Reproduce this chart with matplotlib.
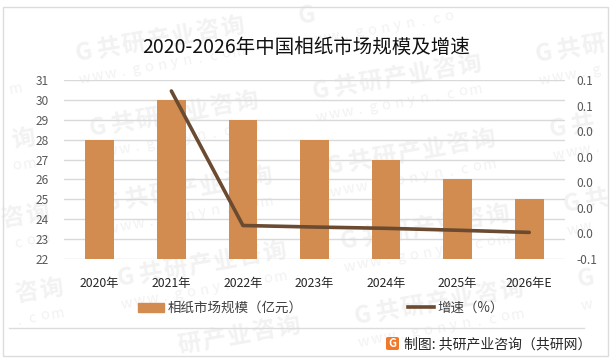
import math
import matplotlib
matplotlib.use('Agg')
from matplotlib import pyplot as plt
from matplotlib.lines import Line2D
from matplotlib.patches import FancyBboxPatch, Patch, Rectangle

plt.rcParams['font.family'] = ['Noto Sans CJK SC', 'DejaVu Sans']

years = ['2020年', '2021年', '2022年', '2023年', '2024年', '2025年', '2026年E']
market_size = [28, 30, 29, 28, 27, 26, 25]
growth_years = years[1:]
growth = [0.0714, -0.0338, -0.0350, -0.0360, -0.0375, -0.0392]
right_ticks = [-0.06, -0.04, -0.02, 0.0, 0.02, 0.04, 0.06, 0.08]
right_labels = ['-0.1', '0.0', '0.0', '0.0', '0.0', '0.0', '0.1', '0.1']

W, H = 613, 362
BAR = '#D28C4F'
LINE = '#6A4A30'
GRID = '#D9D9D9'
MARK = '#F2F2F2'
ANGLE = 10


def px(x, y):
    return x / W, 1 - y / H


def mark_row(chars, cx, cy, step, size, weight):
    # one character at a time, so the ones past the frame can be left out
    c, s = math.cos(math.radians(ANGLE)), math.sin(math.radians(ANGLE))
    n = len(chars)
    for k, ch in enumerate(chars):
        d = (k - (n - 1) / 2) * step
        x, y = cx + d * c, cy - d * s
        if ch == ' ' or x < 12 or x > 598 or y < 16 or y > 348:
            continue
        fx, fy = px(x, y)
        fig.text(fx, fy, ch, fontsize=size, fontweight=weight, color=MARK,
                 ha='center', va='center', rotation=ANGLE, zorder=-1)


fig = plt.figure(figsize=(W / 100, H / 100), dpi=100)

# outer frame and footer rule
fig.add_artist(Rectangle(px(2.5, 356), 605 / W, 349 / H, transform=fig.transFigure,
                         fill=False, ec='#DCDCDC', lw=1))
fig.add_artist(Line2D([9 / W, 584 / W], [1 - 327.5 / H] * 2, color='#DCDCDC', lw=1))

# watermark lattice
for i in range(-2, 5):
    for j in range(-3, 6):
        cx = 172 + 14 * j + 223 * i
        cy = 115 + 75 * j - 37 * i
        mark_row('G共研产业咨询', cx, cy, 25, 17, 'bold')
        mark_row('www.gonyn.com', cx + 4, cy + 25, 13, 10.5, 'normal')

left, top = px(64, 80)
right, bottom = px(565, 259)
ax1 = fig.add_axes([left, bottom, right - left, top - bottom])
ax1.patch.set_alpha(0)
ax1.bar(years, market_size, width=0.4, color=BAR, zorder=2)
ax1.set_xlim(-0.5, 6.5)
ax1.set_ylim(22, 31)
ax1.set_yticks(range(22, 32))
ax1.grid(axis='y', color=GRID, lw=1, zorder=1)
ax1.set_axisbelow(True)
ax1.tick_params(axis='x', length=0, pad=13, labelsize=8.8, labelcolor='#262626')
ax1.tick_params(axis='y', length=0, pad=11, labelsize=8.6, labelcolor='#595959')
for s in ax1.spines.values():
    s.set_visible(False)

ax2 = ax1.twinx()
ax2.plot(growth_years, growth, color=LINE, lw=2.6, solid_capstyle='round', zorder=3)
ax2.set_ylim(-0.06, 0.08)
ax2.set_yticks(right_ticks)
ax2.set_yticklabels(right_labels)
ax2.tick_params(axis='y', length=0, pad=8, labelsize=8.6, labelcolor='#595959')
for s in ax2.spines.values():
    s.set_visible(False)

x, y = px(306.5, 47)
fig.text(x, y, '2020-2026年中国相纸市场规模及增速', fontsize=14, color='#111111',
         ha='center', va='center')

fig.legend(handles=[Patch(color=BAR, label='相纸市场规模（亿元）'),
                    Line2D([], [], color=LINE, lw=2.6, label='增速（%）')],
           loc='center', bbox_to_anchor=px(321, 308), ncol=2, frameon=False,
           fontsize=9.7, labelcolor='#404040', columnspacing=7.8, handlelength=1.95,
           handletextpad=0.25, handleheight=0.7)

# footer logo and source
fig.add_artist(FancyBboxPatch(px(386, 350), 13 / W, 13 / H, transform=fig.transFigure,
                              boxstyle='round,pad=0,rounding_size=0.004',
                              fc='#F0782A', ec='none'))
x, y = px(392.5, 343.5)
fig.text(x, y, 'G', fontsize=8, fontweight='bold', color='white', ha='center', va='center')
x, y = px(404, 344)
fig.text(x, y, '制图: 共研产业咨询（共研网）', fontsize=10, color='#262626', ha='left', va='center')

fig.savefig('out.png', dpi=100)
